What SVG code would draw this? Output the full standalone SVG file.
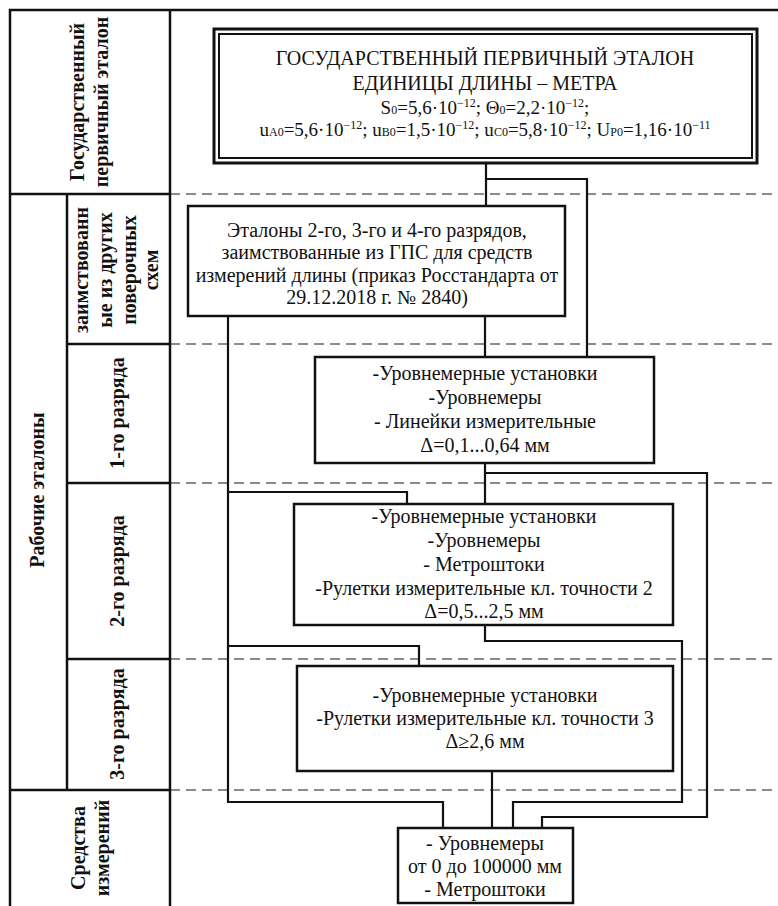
<svg xmlns="http://www.w3.org/2000/svg" width="778" height="906" viewBox="0 0 778 906">
<style>
.frame{fill:none;stroke:#111;stroke-width:2.5}
.dash{fill:none;stroke:#666;stroke-width:1.5;stroke-dasharray:10 6}
.box{fill:#fff;stroke:#111;stroke-width:2.5}
.conn{fill:none;stroke:#111;stroke-width:2.2}
.t{font-family:"Liberation Serif","Times New Roman",serif;fill:#111;text-anchor:middle}
.lbl{font-family:"Liberation Serif","Times New Roman",serif;fill:#111;text-anchor:middle;font-weight:bold;font-size:20px}
.b{font-size:20px}
.s{font-size:12px}
</style>
<rect width="778" height="906" fill="#fff"/>
<g id="grid">
<path class="dash" d="M170,194H778M170,344H778M170,483H778M170,659H778M170,790H778"/>
<path class="frame" d="M10,906V10H778M170,10V906M10,194H170M67,194V790M67,344H170M67,483H170M67,659H170M10,790H170"/>
</g>
<g id="labels">
<text class="lbl" transform="translate(84,102) rotate(-90)">Государственный</text>
<text class="lbl" transform="translate(108,102) rotate(-90)">первичный эталон</text>
<text class="lbl" transform="translate(44,490) rotate(-90)">Рабочие эталоны</text>
<text class="lbl" transform="translate(88,270) rotate(-90)">заимствованн</text>
<text class="lbl" transform="translate(112,270) rotate(-90)">ые из других</text>
<text class="lbl" transform="translate(136,270) rotate(-90)">поверочных</text>
<text class="lbl" transform="translate(158,270) rotate(-90)">схем</text>
<text class="lbl" transform="translate(124,413) rotate(-90)">1-го разряда</text>
<text class="lbl" transform="translate(124,571) rotate(-90)">2-го разряда</text>
<text class="lbl" transform="translate(124,724) rotate(-90)">3-го разряда</text>
<text class="lbl" transform="translate(85,848) rotate(-90)">Средства</text>
<text class="lbl" transform="translate(109,848) rotate(-90)">измерений</text>
</g>
<g id="connectors">
<path class="conn" d="M486,163V206M486,179H587V357M485,316V357M228,316V802H443V828M228,492H407V504M228,646H419V666M485,463V504M485,473H707V817H542V828M485,625V641H682V802H513V828M492,771V828"/>
</g>
<g id="primary">
<rect x="214" y="29" width="543" height="134" fill="#fff" stroke="#111" stroke-width="3"/>
<rect x="219" y="34" width="533" height="124" fill="none" stroke="#111" stroke-width="2"/>
<text class="t" x="485" y="65" font-size="20">ГОСУДАРСТВЕННЫЙ ПЕРВИЧНЫЙ ЭТАЛОН</text>
<text class="t" x="485" y="90" font-size="20">ЕДИНИЦЫ ДЛИНЫ – МЕТРА</text>
<text class="t" x="485" y="114" font-size="19">S<tspan class="s">0</tspan>=5,6·10<tspan class="s" baseline-shift="super">−12</tspan>; Θ<tspan class="s">0</tspan>=2,2·10<tspan class="s" baseline-shift="super">−12</tspan>;</text>
<text class="t" x="485" y="136" font-size="19">u<tspan class="s">A0</tspan>=5,6·10<tspan class="s" baseline-shift="super">−12</tspan>; u<tspan class="s">B0</tspan>=1,5·10<tspan class="s" baseline-shift="super">−12</tspan>; u<tspan class="s">C0</tspan>=5,8·10<tspan class="s" baseline-shift="super">−12</tspan>; U<tspan class="s">P0</tspan>=1,16·10<tspan class="s" baseline-shift="super">−11</tspan></text>
</g>
<g id="borrowed">
<rect class="box" x="188" y="206" width="377" height="110"/>
<text class="t b" x="377" y="237">Эталоны 2-го, 3-го и 4-го разрядов,</text>
<text class="t b" x="377" y="259">заимствованные из ГПС для средств</text>
<text class="t b" x="377" y="282">измерений длины (приказ Росстандарта от</text>
<text class="t b" x="377" y="304">29.12.2018 г. № 2840)</text>
</g>
<g id="rank1">
<rect class="box" x="315" y="357" width="339" height="106"/>
<text class="t b" x="485" y="380">-Уровнемерные установки</text>
<text class="t b" x="485" y="404">-Уровнемеры</text>
<text class="t b" x="485" y="428">- Линейки измерительные</text>
<text class="t b" x="485" y="452">Δ=0,1...0,64 мм</text>
</g>
<g id="rank2">
<rect class="box" x="294" y="504" width="379" height="121"/>
<text class="t b" x="484" y="523">-Уровнемерные установки</text>
<text class="t b" x="484" y="547">-Уровнемеры</text>
<text class="t b" x="484" y="571">- Метроштоки</text>
<text class="t b" x="484" y="595">-Рулетки измерительные кл. точности 2</text>
<text class="t b" x="484" y="618">Δ=0,5...2,5 мм</text>
</g>
<g id="rank3">
<rect class="box" x="297" y="666" width="376" height="105"/>
<text class="t b" x="485" y="702">-Уровнемерные установки</text>
<text class="t b" x="485" y="725">-Рулетки измерительные кл. точности 3</text>
<text class="t b" x="485" y="748">Δ≥2,6 мм</text>
</g>
<g id="instruments">
<rect class="box" x="398" y="828" width="175" height="75"/>
<text class="t b" x="485" y="850">- Уровнемеры</text>
<text class="t b" x="485" y="873">от 0 до 100000 мм</text>
<text class="t b" x="485" y="896">- Метроштоки</text>
</g>
</svg>
